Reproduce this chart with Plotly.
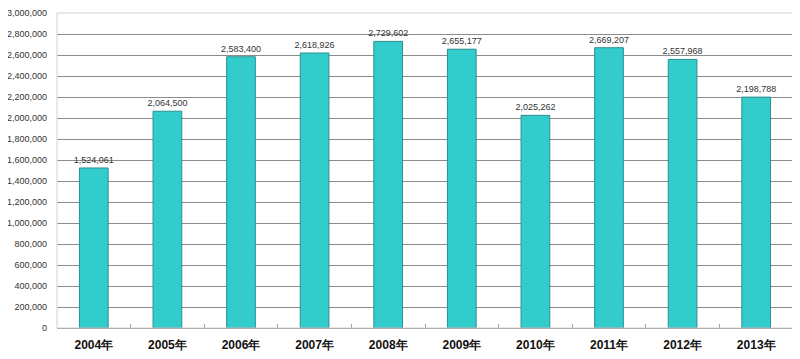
import plotly.graph_objects as go

years = ["2004年", "2005年", "2006年", "2007年", "2008年", "2009年", "2010年", "2011年", "2012年", "2013年"]
values = [1524061, 2064500, 2583400, 2618926, 2729602, 2655177, 2025262, 2669207, 2557968, 2198788]
y_ticks = list(range(0, 3000001, 200000))

fig = go.Figure()
fig.add_trace(go.Bar(
    x=years, y=values,
    marker=dict(color="#33CCCC", line=dict(color="#2A8F8F", width=1)),
    width=0.39,
    text=[f"{v:,}" for v in values],
    textposition="outside",
    constraintext="none",
    textangle=0,
    textfont=dict(family="Liberation Sans, Arial", size=9, color="#333333"),
    cliponaxis=False,
))

# page body has an 8px margin, so the figure is sized/positioned to compensate
fig.update_layout(
    width=792, height=351,
    margin=dict(l=49, r=7, t=5, b=31, autoexpand=False),
    paper_bgcolor="white", plot_bgcolor="white",
    showlegend=False,
    shapes=[dict(type="rect", xref="paper", yref="paper", x0=0, x1=1, y0=0, y1=1,
                 line=dict(color="#CFCFCF", width=1), layer="above")],
)
fig.update_yaxes(
    range=[0, 3000000],
    tickvals=y_ticks,
    ticktext=[f"{v:,}" for v in y_ticks],
    gridcolor="#8C8C8C", gridwidth=1,
    zeroline=False,
    showline=False,
    automargin=False,
    tickfont=dict(family="Liberation Sans, Arial", size=9, color="#333333"),
    ticks="", ticklen=0, ticklabelstandoff=9,
)
fig.update_xaxes(
    showline=True, linecolor="#8C8C8C", linewidth=1,
    ticks="inside", tickson="boundaries", ticklen=4, tickcolor="#A0A0A0",
    automargin=False,
    tickfont=dict(family="Liberation Sans, Arial", size=12, color="#111111", weight="bold"),
    ticklabelstandoff=6,
    showgrid=False,
)
fig.write_html("out.html")
